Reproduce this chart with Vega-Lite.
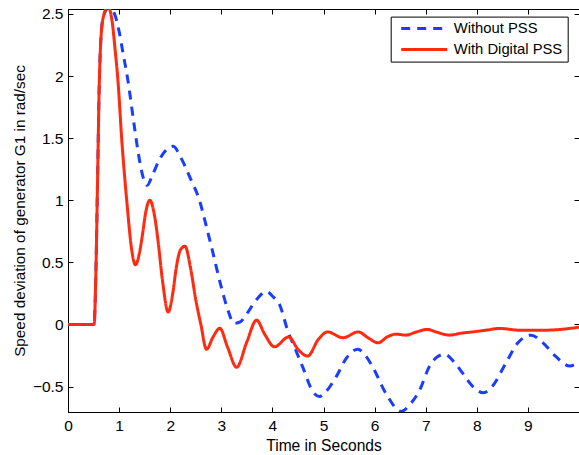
{
"$schema": "https://vega.github.io/schema/vega-lite/v6.json",
"width": 511, "height": 403,
"autosize": {"type": "none"},
"padding": {"left": 68, "top": 9, "right": 0, "bottom": 43},
"config": {
  "font": "Liberation Sans",
  "view": {"stroke": "black", "strokeWidth": 1},
  "axis": {"domainColor": "black", "tickColor": "black", "labelColor": "black", "titleColor": "black", "labelFontSize": 15.5, "titleFontSize": 15.3, "titleFontWeight": "normal", "grid": false, "tickSize": -5, "labelPadding": 10, "labelFlush": false, "labelFont": "Liberation Sans", "titleFont": "Liberation Sans"},
  "legend": {"orient": "none", "legendX": 322.7, "legendY": 7.6, "strokeColor": "black", "fillColor": "white", "padding": 4.5, "symbolType": "stroke", "symbolSize": 2116, "symbolStrokeWidth": 3, "clipHeight": 15, "labelFontSize": 14.8, "labelColor": "black", "labelOffset": 5, "rowPadding": 5, "symbolOffset": 4.5, "labelFont": "Liberation Sans"}
},
"data": {"values": [
{"s":"Without PSS","t":0,"v":0},{"s":"Without PSS","t":0.5,"v":0},{"s":"Without PSS","t":0.51,"v":0},{"s":"Without PSS","t":0.55,"v":0.5},{"s":"Without PSS","t":0.58,"v":1.2},{"s":"Without PSS","t":0.61,"v":1.9},{"s":"Without PSS","t":0.65,"v":2.34},{"s":"Without PSS","t":0.7,"v":2.49},{"s":"Without PSS","t":0.8,"v":2.55},{"s":"Without PSS","t":0.91,"v":2.5},{"s":"Without PSS","t":1.0,"v":2.36},{"s":"Without PSS","t":1.07,"v":2.2},{"s":"Without PSS","t":1.17,"v":1.97},{"s":"Without PSS","t":1.3,"v":1.59},{"s":"Without PSS","t":1.4,"v":1.32},{"s":"Without PSS","t":1.48,"v":1.17},{"s":"Without PSS","t":1.55,"v":1.12},{"s":"Without PSS","t":1.65,"v":1.2},{"s":"Without PSS","t":1.78,"v":1.32},{"s":"Without PSS","t":1.89,"v":1.39},{"s":"Without PSS","t":2.06,"v":1.435},{"s":"Without PSS","t":2.2,"v":1.35},{"s":"Without PSS","t":2.38,"v":1.19},{"s":"Without PSS","t":2.58,"v":0.99},{"s":"Without PSS","t":2.71,"v":0.785},{"s":"Without PSS","t":2.84,"v":0.57},{"s":"Without PSS","t":3.0,"v":0.3},{"s":"Without PSS","t":3.13,"v":0.115},{"s":"Without PSS","t":3.25,"v":0.008},{"s":"Without PSS","t":3.37,"v":0.02},{"s":"Without PSS","t":3.49,"v":0.08},{"s":"Without PSS","t":3.69,"v":0.2},{"s":"Without PSS","t":3.88,"v":0.265},{"s":"Without PSS","t":4.02,"v":0.22},{"s":"Without PSS","t":4.14,"v":0.16},{"s":"Without PSS","t":4.3,"v":-0.05},{"s":"Without PSS","t":4.45,"v":-0.2},{"s":"Without PSS","t":4.6,"v":-0.35},{"s":"Without PSS","t":4.79,"v":-0.54},{"s":"Without PSS","t":4.92,"v":-0.58},{"s":"Without PSS","t":5.05,"v":-0.54},{"s":"Without PSS","t":5.25,"v":-0.42},{"s":"Without PSS","t":5.45,"v":-0.27},{"s":"Without PSS","t":5.67,"v":-0.2},{"s":"Without PSS","t":5.82,"v":-0.25},{"s":"Without PSS","t":5.96,"v":-0.34},{"s":"Without PSS","t":6.22,"v":-0.555},{"s":"Without PSS","t":6.52,"v":-0.7},{"s":"Without PSS","t":6.7,"v":-0.64},{"s":"Without PSS","t":6.88,"v":-0.53},{"s":"Without PSS","t":7.07,"v":-0.34},{"s":"Without PSS","t":7.2,"v":-0.27},{"s":"Without PSS","t":7.37,"v":-0.24},{"s":"Without PSS","t":7.55,"v":-0.3},{"s":"Without PSS","t":7.72,"v":-0.39},{"s":"Without PSS","t":7.9,"v":-0.49},{"s":"Without PSS","t":8.13,"v":-0.55},{"s":"Without PSS","t":8.3,"v":-0.5},{"s":"Without PSS","t":8.57,"v":-0.31},{"s":"Without PSS","t":8.8,"v":-0.15},{"s":"Without PSS","t":9.06,"v":-0.086},{"s":"Without PSS","t":9.3,"v":-0.15},{"s":"Without PSS","t":9.55,"v":-0.26},{"s":"Without PSS","t":9.82,"v":-0.335},{"s":"Without PSS","t":10,"v":-0.3},
{"s":"With Digital PSS","t":0,"v":0},{"s":"With Digital PSS","t":0.5,"v":0},{"s":"With Digital PSS","t":0.51,"v":0},{"s":"With Digital PSS","t":0.55,"v":0.5},{"s":"With Digital PSS","t":0.58,"v":1.2},{"s":"With Digital PSS","t":0.61,"v":1.9},{"s":"With Digital PSS","t":0.65,"v":2.34},{"s":"With Digital PSS","t":0.7,"v":2.49},{"s":"With Digital PSS","t":0.78,"v":2.56},{"s":"With Digital PSS","t":0.86,"v":2.45},{"s":"With Digital PSS","t":0.92,"v":2.22},{"s":"With Digital PSS","t":0.98,"v":1.95},{"s":"With Digital PSS","t":1.05,"v":1.5},{"s":"With Digital PSS","t":1.16,"v":0.95},{"s":"With Digital PSS","t":1.24,"v":0.62},{"s":"With Digital PSS","t":1.32,"v":0.48},{"s":"With Digital PSS","t":1.4,"v":0.58},{"s":"With Digital PSS","t":1.46,"v":0.73},{"s":"With Digital PSS","t":1.52,"v":0.9},{"s":"With Digital PSS","t":1.6,"v":1.0},{"s":"With Digital PSS","t":1.7,"v":0.86},{"s":"With Digital PSS","t":1.76,"v":0.68},{"s":"With Digital PSS","t":1.85,"v":0.35},{"s":"With Digital PSS","t":1.96,"v":0.1},{"s":"With Digital PSS","t":2.05,"v":0.25},{"s":"With Digital PSS","t":2.12,"v":0.46},{"s":"With Digital PSS","t":2.2,"v":0.6},{"s":"With Digital PSS","t":2.29,"v":0.63},{"s":"With Digital PSS","t":2.4,"v":0.45},{"s":"With Digital PSS","t":2.5,"v":0.2},{"s":"With Digital PSS","t":2.6,"v":0.0},{"s":"With Digital PSS","t":2.71,"v":-0.2},{"s":"With Digital PSS","t":2.84,"v":-0.1},{"s":"With Digital PSS","t":2.97,"v":-0.03},{"s":"With Digital PSS","t":3.12,"v":-0.18},{"s":"With Digital PSS","t":3.3,"v":-0.345},{"s":"With Digital PSS","t":3.5,"v":-0.14},{"s":"With Digital PSS","t":3.69,"v":0.035},{"s":"With Digital PSS","t":3.85,"v":-0.08},{"s":"With Digital PSS","t":4.04,"v":-0.18},{"s":"With Digital PSS","t":4.32,"v":-0.1},{"s":"With Digital PSS","t":4.5,"v":-0.2},{"s":"With Digital PSS","t":4.69,"v":-0.255},{"s":"With Digital PSS","t":4.9,"v":-0.12},{"s":"With Digital PSS","t":5.08,"v":-0.06},{"s":"With Digital PSS","t":5.38,"v":-0.107},{"s":"With Digital PSS","t":5.68,"v":-0.06},{"s":"With Digital PSS","t":5.88,"v":-0.11},{"s":"With Digital PSS","t":6.07,"v":-0.148},{"s":"With Digital PSS","t":6.25,"v":-0.1},{"s":"With Digital PSS","t":6.42,"v":-0.078},{"s":"With Digital PSS","t":6.61,"v":-0.086},{"s":"With Digital PSS","t":6.82,"v":-0.06},{"s":"With Digital PSS","t":7.03,"v":-0.04},{"s":"With Digital PSS","t":7.2,"v":-0.06},{"s":"With Digital PSS","t":7.46,"v":-0.086},{"s":"With Digital PSS","t":7.7,"v":-0.07},{"s":"With Digital PSS","t":7.92,"v":-0.06},{"s":"With Digital PSS","t":8.2,"v":-0.045},{"s":"With Digital PSS","t":8.44,"v":-0.032},{"s":"With Digital PSS","t":8.83,"v":-0.046},{"s":"With Digital PSS","t":9.35,"v":-0.046},{"s":"With Digital PSS","t":10,"v":-0.022}
]},
"layer": [
  {"mark": {"type": "line", "strokeWidth": 3, "interpolate": "monotone", "clip": true},
   "encoding": {
     "x": {"field": "t", "type": "quantitative", "scale": {"domain": [0, 10], "nice": false, "zero": false},
           "axis": {"values": [0,1,2,3,4,5,6,7,8,9], "labelPadding": 11, "title": "Time in Seconds", "titleFontSize": 15.6, "titleY": 38, "titleBaseline": "alphabetic", "format": "~g"}},
     "y": {"field": "v", "type": "quantitative", "scale": {"domain": [-0.705, 2.54], "nice": false, "zero": false},
           "axis": {"values": [-0.5,0,0.5,1,1.5,2,2.5], "format": "~g", "title": "Speed deviation of generator G1 in rad/sec", "titleX": -44, "titleY": 201.5, "titleBaseline": "alphabetic"}},
     "color": {"field": "s", "type": "nominal", "scale": {"domain": ["Without PSS", "With Digital PSS"], "range": ["#1a3dff", "#ff2a0f"]}, "legend": {"title": null}},
     "strokeDash": {"field": "s", "type": "nominal", "scale": {"domain": ["Without PSS", "With Digital PSS"], "range": [[9, 7], [1, 0]]}, "legend": {"title": null}}
   }},
  {"mark": {"type": "line", "opacity": 0},
   "encoding": {
     "x": {"field": "t", "type": "quantitative", "scale": {"domain": [0, 10], "nice": false, "zero": false},
           "axis": {"orient": "top", "values": [0,1,2,3,4,5,6,7,8,9], "labels": false, "title": null}},
     "y": {"field": "v", "type": "quantitative", "scale": {"domain": [-0.705, 2.54], "nice": false, "zero": false},
           "axis": {"orient": "right", "values": [-0.5,0,0.5,1,1.5,2,2.5], "labels": false, "title": null}}
   }}
],
"resolve": {"axis": {"x": "independent", "y": "independent"}}
}
